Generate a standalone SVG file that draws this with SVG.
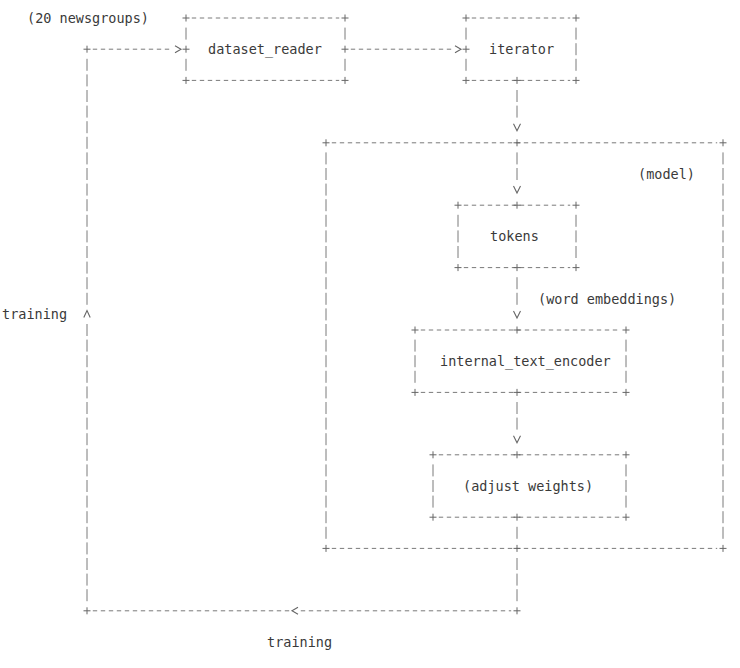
<svg xmlns="http://www.w3.org/2000/svg" xmlns:xlink="http://www.w3.org/1999/xlink" width="740" height="668" viewBox="0 0 740 668">
<style>
.h{stroke:#7a7a7a;stroke-width:1;stroke-dasharray:4.4 3.6;fill:none}
.v{stroke:#7a7a7a;stroke-width:1;stroke-dasharray:12 3.6;fill:none}
.s{stroke:#7a7a7a;stroke-width:1;fill:none}
.a{stroke:#666;stroke-width:1.1;fill:none}
.p{stroke:#666;stroke-width:1;fill:none}
.t{font-family:"DejaVu Sans Mono","Liberation Mono",monospace;font-size:13.5px;fill:#3a3a3a;dominant-baseline:central}
</style>
<defs>
<path id="plus" d="M-3.5 0H3.5M0 -3.5V3.5"/>
</defs>
<rect width="740" height="668" fill="#fff"/>

<g id="connectors">
<use href="#plus" class="p" x="87" y="49.2"/>
<line class="h" x1="92.8" y1="49.2" x2="172" y2="49.2"/>
<polyline class="a" points="175,45.7 181,49.2 175,52.7"/>
<line class="h" x1="350.8" y1="49.2" x2="452" y2="49.2"/>
<polyline class="a" points="455,45.7 461,49.2 455,52.7"/>
<line class="v" x1="517" y1="90" x2="517" y2="117.6"/>
<polyline class="a" points="513.5,123.7 517,130.7 520.5,123.7"/>
<line class="v" x1="517" y1="152.4" x2="517" y2="180"/>
<polyline class="a" points="513.5,186.1 517,193.1 520.5,186.1"/>
<line class="v" x1="517" y1="277.2" x2="517" y2="304.8"/>
<polyline class="a" points="513.5,310.9 517,317.9 520.5,310.9"/>
<line class="v" x1="517" y1="402" x2="517" y2="429.6"/>
<polyline class="a" points="513.5,435.7 517,442.7 520.5,435.7"/>
<line class="s" x1="517" y1="526.8" x2="517" y2="538.8"/>
<line class="v" x1="517" y1="558" x2="517" y2="601.2"/>
<use href="#plus" class="p" x="517" y="610.8"/>
<line class="h" x1="300.8" y1="610.8" x2="511.2" y2="610.8"/>
<polyline class="a" points="298,607.3 292,610.8 298,614.3"/>
<line class="h" x1="92.8" y1="610.8" x2="289.2" y2="610.8"/>
<use href="#plus" class="p" x="87" y="610.8"/>
<line class="v" x1="87" y1="324" x2="87" y2="601.2"/>
<polyline class="a" points="83.8,317.5 87,310.5 90.2,317.5"/>
<line class="v" x1="87" y1="58.8" x2="87" y2="304.8"/>
</g>

<g id="labels">
<text class="t" x="27" y="18">(20 newsgroups)</text>
<text class="t" x="2" y="314.4">training</text>
<text class="t" x="267" y="642">training</text>
<text class="t" x="538" y="298.8">(word embeddings)</text>
</g>

<g id="dataset_reader">
<line class="h" x1="191.8" y1="18" x2="339.2" y2="18"/>
<line class="h" x1="191.8" y1="80.4" x2="339.2" y2="80.4"/>
<line class="s" x1="186" y1="27.6" x2="186" y2="39.6"/>
<line class="s" x1="186" y1="58.8" x2="186" y2="70.8"/>
<line class="s" x1="345" y1="27.6" x2="345" y2="39.6"/>
<line class="s" x1="345" y1="58.8" x2="345" y2="70.8"/>
<use href="#plus" class="p" x="186" y="18"/>
<use href="#plus" class="p" x="345" y="18"/>
<use href="#plus" class="p" x="186" y="80.4"/>
<use href="#plus" class="p" x="345" y="80.4"/>
<use href="#plus" class="p" x="186" y="49.2"/>
<use href="#plus" class="p" x="345" y="49.2"/>
<text class="t" x="208" y="49.2">dataset_reader</text>
</g>

<g id="iterator">
<line class="h" x1="471.8" y1="18" x2="570.2" y2="18"/>
<line class="h" x1="471.8" y1="80.4" x2="570.2" y2="80.4"/>
<line class="s" x1="466" y1="27.6" x2="466" y2="39.6"/>
<line class="s" x1="466" y1="58.8" x2="466" y2="70.8"/>
<line class="v" x1="576" y1="27.6" x2="576" y2="70.8"/>
<use href="#plus" class="p" x="466" y="18"/>
<use href="#plus" class="p" x="576" y="18"/>
<use href="#plus" class="p" x="466" y="80.4"/>
<use href="#plus" class="p" x="576" y="80.4"/>
<use href="#plus" class="p" x="466" y="49.2"/>
<use href="#plus" class="p" x="517" y="80.4"/>
<text class="t" x="489" y="49.2">iterator</text>
</g>

<g id="model">
<line class="h" x1="331.8" y1="142.8" x2="717.2" y2="142.8"/>
<line class="h" x1="331.8" y1="548.4" x2="717.2" y2="548.4"/>
<line class="v" x1="326" y1="152.4" x2="326" y2="538.8"/>
<line class="v" x1="723" y1="152.4" x2="723" y2="538.8"/>
<use href="#plus" class="p" x="326" y="142.8"/>
<use href="#plus" class="p" x="723" y="142.8"/>
<use href="#plus" class="p" x="326" y="548.4"/>
<use href="#plus" class="p" x="723" y="548.4"/>
<use href="#plus" class="p" x="517" y="142.8"/>
<use href="#plus" class="p" x="517" y="548.4"/>
<text class="t" x="638" y="174">(model)</text>
</g>

<g id="tokens">
<line class="h" x1="463.8" y1="205.2" x2="570.2" y2="205.2"/>
<line class="h" x1="463.8" y1="267.6" x2="570.2" y2="267.6"/>
<line class="v" x1="458" y1="214.8" x2="458" y2="258"/>
<line class="v" x1="576" y1="214.8" x2="576" y2="258"/>
<use href="#plus" class="p" x="458" y="205.2"/>
<use href="#plus" class="p" x="576" y="205.2"/>
<use href="#plus" class="p" x="458" y="267.6"/>
<use href="#plus" class="p" x="576" y="267.6"/>
<use href="#plus" class="p" x="517" y="205.2"/>
<use href="#plus" class="p" x="517" y="267.6"/>
<text class="t" x="490" y="236.4">tokens</text>
</g>

<g id="internal_text_encoder">
<line class="h" x1="420.8" y1="330" x2="620.2" y2="330"/>
<line class="h" x1="420.8" y1="392.4" x2="620.2" y2="392.4"/>
<line class="v" x1="415" y1="339.6" x2="415" y2="382.8"/>
<line class="v" x1="626" y1="339.6" x2="626" y2="382.8"/>
<use href="#plus" class="p" x="415" y="330"/>
<use href="#plus" class="p" x="626" y="330"/>
<use href="#plus" class="p" x="415" y="392.4"/>
<use href="#plus" class="p" x="626" y="392.4"/>
<use href="#plus" class="p" x="517" y="330"/>
<use href="#plus" class="p" x="517" y="392.4"/>
<text class="t" x="440" y="361.2">internal_text_encoder</text>
</g>

<g id="adjust_weights">
<line class="h" x1="438.8" y1="454.8" x2="620.2" y2="454.8"/>
<line class="h" x1="438.8" y1="517.2" x2="620.2" y2="517.2"/>
<line class="v" x1="433" y1="464.4" x2="433" y2="507.6"/>
<line class="v" x1="626" y1="464.4" x2="626" y2="507.6"/>
<use href="#plus" class="p" x="433" y="454.8"/>
<use href="#plus" class="p" x="626" y="454.8"/>
<use href="#plus" class="p" x="433" y="517.2"/>
<use href="#plus" class="p" x="626" y="517.2"/>
<use href="#plus" class="p" x="517" y="454.8"/>
<use href="#plus" class="p" x="517" y="517.2"/>
<text class="t" x="463" y="486">(adjust weights)</text>
</g>
</svg>
